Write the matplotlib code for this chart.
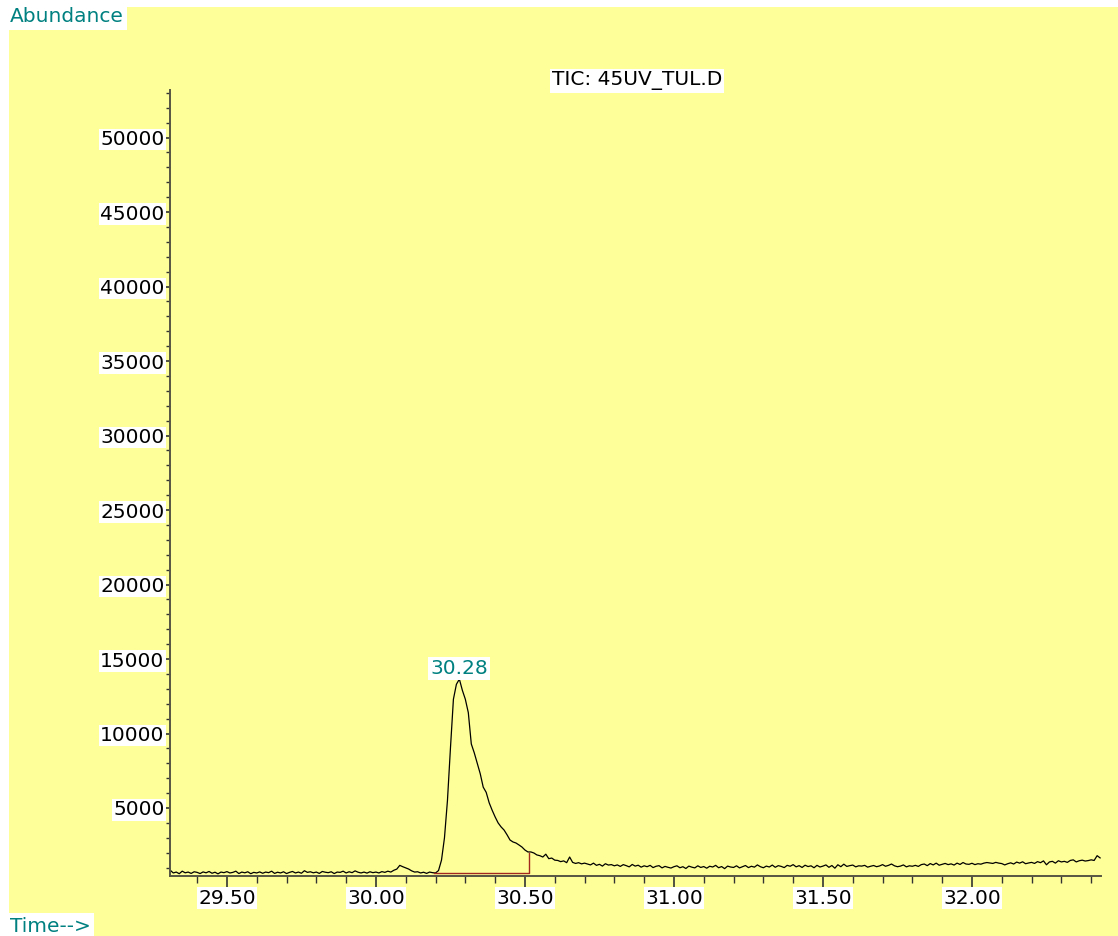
import numpy as np
import matplotlib.pyplot as plt
from matplotlib.ticker import MultipleLocator

# scan times (min), one scan every 0.01 min
t_start = 29.31
t_step = 0.01

# TIC abundance, rows of 10 scans each (29.31-29.40, 29.41-29.50, ...)
abundance = [
    820, 640, 700, 590, 760, 650, 700, 610, 720, 680,
    600, 710, 650, 740, 620, 690, 580, 700, 660, 730,
    640, 680, 760, 600, 700, 650, 720, 590, 680, 640,
    710, 620, 700, 660, 760, 610, 690, 640, 720, 600,
    680, 740, 640, 700, 620, 790, 680, 720, 650, 700,
    610, 740, 690, 660, 720, 600, 700, 680, 760, 640,
    720, 660, 780, 690, 640, 700, 630, 720, 660, 700,
    640, 730, 680, 760, 700, 820, 900, 1150, 1060, 980,
    900, 780, 700, 720, 640, 690, 610, 700, 660, 640,
    800, 1500, 3000, 5500, 9000, 12300, 13300, 13650, 12900, 12300,
    11400, 9300, 8700, 8000, 7300, 6400, 6050, 5350, 4850, 4400,
    4000, 3730, 3520, 3200, 2850, 2720, 2650, 2520, 2380, 2180,
    2050, 2050, 1980, 1850, 1800, 1710, 1900, 1600, 1640, 1500,
    1480, 1400, 1450, 1330, 1710, 1350, 1280, 1330, 1250, 1300,
    1240, 1180, 1300, 1150, 1220, 1100, 1260, 1170, 1200, 1120,
    1180, 1080, 1200, 1130, 1050, 1210, 1100, 1160, 1030, 1120,
    1060, 1150, 1000, 1090, 1130, 980, 1080, 1020, 970, 1060,
    1120, 990, 1060, 940, 1100, 1030, 980, 1120, 1010, 1070,
    960, 1090, 1040, 1150, 990, 1070, 930, 1100, 1040, 1010,
    1120, 980, 1060, 1140, 1000, 1090, 1030, 1180, 1060, 990,
    1100, 1040, 1170, 1020, 1130, 1080, 1000, 1150, 1090, 1200,
    1050, 1130, 1010, 1160, 1070, 1120, 990, 1150, 1040, 1100,
    1180, 1020, 1140, 960, 1190, 1060, 1230, 1080, 1130, 1170,
    1050, 1120, 1100, 1150, 1030, 1090, 1140, 1060, 1110, 1200,
    1090, 1150, 1240, 1120, 1060, 1100, 1180, 1050, 1120, 1090,
    1150, 1080, 1200, 1240, 1130, 1270, 1180, 1300, 1160, 1220,
    1280, 1200, 1250, 1170, 1300, 1210, 1340, 1240, 1220, 1290,
    1200, 1260, 1230, 1300, 1340, 1310, 1280, 1350, 1300, 1270,
    1180, 1260, 1320, 1240, 1370, 1300, 1390, 1260, 1310, 1350,
    1280, 1400, 1330, 1450, 1190, 1380, 1420, 1300, 1460, 1380,
    1420, 1350, 1480, 1520, 1380, 1460, 1500, 1440, 1470, 1520,
    1480, 1800, 1650,
]
times = t_start + t_step * np.arange(len(abundance))

# integrated peak
peak_rt = 30.28
peak_top = 13650
integ_start = 30.195
integ_end = 30.513
integ_base = 640
integ_end_top = 1980

teal = "#008080"
yellow = "#FFFF99"
fnt = "DejaVu Sans"
fs = 14.5

fig = plt.figure(figsize=(11.18, 9.36), dpi=100)
fig.patch.set_facecolor("white")

# yellow page behind everything
bg = fig.add_axes([9 / 1118, 0, 1 - 9 / 1118, 1 - 7 / 936], zorder=-10)
bg.set_facecolor(yellow)
bg.set_xticks([])
bg.set_yticks([])
for s in bg.spines.values():
    s.set_visible(False)

ax = fig.add_axes([170 / 1118, 1 - 876 / 936, (1101 - 170) / 1118, (876 - 90) / 936])
ax.set_facecolor("none")

ax.plot(times, abundance, color="black", lw=0.9)
ax.plot([integ_start, integ_end, integ_end], [integ_base, integ_base, integ_end_top],
        color="#A0281E", lw=1.0)

ax.set_xlim(29.309, 32.433)
ax.set_ylim(436, 53190)

ax.xaxis.set_minor_locator(MultipleLocator(0.1))
ax.yaxis.set_minor_locator(MultipleLocator(1000))
ax.set_xticks([29.5, 30.0, 30.5, 31.0, 31.5, 32.0])
ax.set_xticklabels(["29.50", "30.00", "30.50", "31.00", "31.50", "32.00"])
ax.set_yticks([5000, 10000, 15000, 20000, 25000, 30000, 35000, 40000, 45000, 50000])

for s in ["top", "right"]:
    ax.spines[s].set_visible(False)
for s in ["left", "bottom"]:
    ax.spines[s].set_color("#555544")
    ax.spines[s].set_linewidth(1.4)

ax.tick_params(axis="x", which="major", length=9, width=1.2, color="#333333",
               labelsize=fs, pad=0)
ax.tick_params(axis="x", which="minor", length=5, width=1.0, color="#333333")
ax.tick_params(axis="y", which="major", length=4, width=1.2, color="#333333",
               labelsize=fs, pad=0)
ax.tick_params(axis="y", which="minor", length=3, width=1.0, color="#333333")

for lab in ax.get_xticklabels() + ax.get_yticklabels():
    lab.set_fontfamily(fnt)
    lab.set_bbox(dict(facecolor="white", edgecolor="none", pad=1.0))

ax.text(peak_rt, peak_top + 60, "30.28", ha="center", va="bottom", color=teal,
        fontsize=fs, family=fnt,
        bbox=dict(facecolor="white", edgecolor="none", pad=1.5))

fig.text(637 / 1118, 1 - 81 / 936, "TIC: 45UV_TUL.D", ha="center", va="center",
         fontsize=fs, family=fnt, color="black",
         bbox=dict(facecolor="white", edgecolor="none", pad=1.5))
fig.text(10 / 1118, 1 - 17 / 936, "Abundance", ha="left", va="center",
         fontsize=fs, family=fnt, color=teal,
         bbox=dict(facecolor="white", edgecolor="none", pad=2.5))
fig.text(10 / 1118, 1 - 926 / 936, "Time-->", ha="left", va="center",
         fontsize=fs, family=fnt, color=teal,
         bbox=dict(facecolor="white", edgecolor="none", pad=2.5))

fig.savefig("out.png", dpi=100)
